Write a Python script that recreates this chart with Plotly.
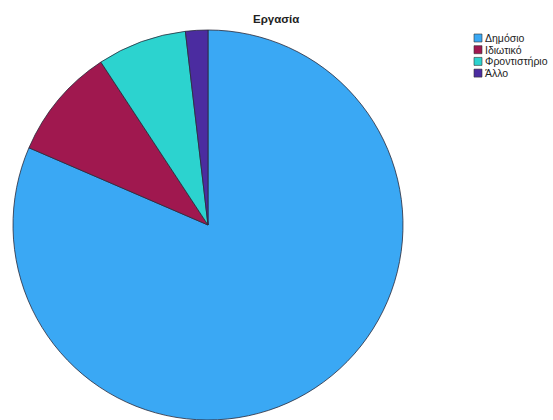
import plotly.graph_objects as go

labels = ["Δημόσιο", "Ιδιωτικό", "Φροντιστήριο", "Άλλο"]
values = [44, 5, 4, 1]
colors = ["#3AA8F4", "#A0184F", "#2CD3CF", "#4B2CA0"]
title = "Εργασία"

W, H = 553, 420
cx, cy, r = 208, 225, 195

fig = go.Figure(go.Pie(
    labels=labels, values=values, sort=False, direction="clockwise", rotation=0,
    marker=dict(colors=colors, line=dict(color="#2a2a3a", width=0.8)),
    textinfo="none", hoverinfo="label+value+percent",
    domain=dict(x=[(cx - r) / W, (cx + r) / W], y=[(H - cy - r) / H, (H - cy + r) / H]),
    showlegend=False,
))

shapes = []
annotations = []
lx, ly0, step, sq = 474, 38, 11.7, 8
for i, (lab, col) in enumerate(zip(labels, colors)):
    yc = ly0 + i * step
    shapes.append(dict(type="rect", xref="paper", yref="paper",
                       x0=lx / W, x1=(lx + sq) / W,
                       y0=1 - (yc + sq / 2) / H, y1=1 - (yc - sq / 2) / H,
                       fillcolor=col, line=dict(color="#333333", width=0.6)))
    annotations.append(dict(text=lab, xref="paper", yref="paper",
                            x=(lx + sq + 1) / W, y=1 - yc / H, xanchor="left", yanchor="middle",
                            showarrow=False, font=dict(family="Liberation Sans, Arial", size=10.5, color="#222")))

annotations.append(dict(text="<b>" + title + "</b>", xref="paper", yref="paper",
                        x=276 / W, y=1 - 19 / H, xanchor="center", yanchor="middle",
                        showarrow=False, font=dict(family="Liberation Sans, Arial", size=11.5, color="#222")))

fig.update_layout(width=W, height=H, margin=dict(l=0, r=0, t=0, b=0),
                  paper_bgcolor="white", plot_bgcolor="white",
                  shapes=shapes, annotations=annotations)

fig.write_html("out.html")
